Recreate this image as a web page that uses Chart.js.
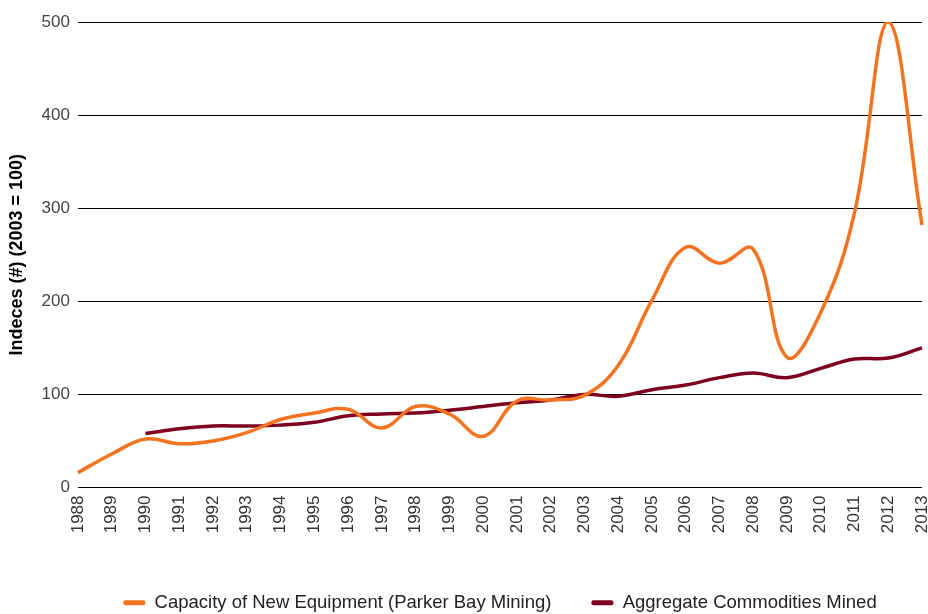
<!DOCTYPE html>
<html>
<head>
<meta charset="utf-8">
<script src="https://cdn.jsdelivr.net/npm/chart.js@4.4.0/dist/chart.umd.min.js"></script>
<style>
  html, body { margin: 0; padding: 0; background: #fff; }
  #wrap { width: 928px; height: 614px; }
</style>
</head>
<body>
<div id="wrap"><canvas id="indexChart" width="928" height="614"></canvas></div>
<script>
// years on the x axis
const years = ['1988', '1989', '1990', '1991', '1992', '1993', '1994', '1995', '1996', '1997', '1998', '1999', '2000',
  '2001', '2002', '2003', '2004', '2005', '2006', '2007', '2008', '2009', '2010', '2011', '2012', '2013'];

// Capacity of New Equipment (Parker Bay Mining)
const capacityValues = [16, 36, 52, 47, 50, 59, 73, 80, 84, 64, 87, 79, 55,
  93, 94, 99, 131, 201, 258, 241, 256, 140, 188, 295, 500, 282];

// Aggregate Commodities Mined (series starts in 1990)
const commoditiesValues = [null, null, 58, 63, 66, 66, 67, 70, 77, 79, 80, 83, 87,
  91, 94, 100, 98, 105, 110, 118, 123, 118, 128, 138, 139, 150];

const yTicks = [0, 100, 200, 300, 400, 500];

const orange = '#f47321';
const darkRed = '#7d0020';

// center the legend under the plot area instead of the whole canvas
const legendUnderPlot = {
  id: 'legendUnderPlot',
  afterLayout(chart) {
    const lg = chart.legend;
    const shift = (chart.chartArea.left + chart.chartArea.right) / 2 - (lg.left + lg.right) / 2;
    lg.left += shift;
    lg.right += shift;
  }
};

const ctx = document.getElementById('indexChart').getContext('2d');
new Chart(ctx, {
  type: 'line',
  data: {
    labels: years,
    datasets: [
      {
        label: 'Capacity of New Equipment (Parker Bay Mining)',
        data: capacityValues,
        borderColor: orange,
        backgroundColor: orange,
        borderWidth: 3.5,
        pointRadius: 0,
        tension: 0.4,
        fill: false
      },
      {
        label: 'Aggregate Commodities Mined',
        data: commoditiesValues,
        borderColor: darkRed,
        backgroundColor: darkRed,
        borderWidth: 3.5,
        pointRadius: 0,
        tension: 0.4,
        fill: false
      }
    ]
  },
  plugins: [legendUnderPlot],
  options: {
    responsive: false,
    animation: false,
    layout: { padding: { top: 22, right: 6, left: 6, bottom: -8 } },
    scales: {
      x: {
        offset: false,
        grid: { display: false, drawTicks: false },
        border: { display: false },
        ticks: {
          minRotation: 90,
          maxRotation: 90,
          padding: 8,
          color: '#333',
          font: { family: 'Liberation Sans', size: 17 }
        },
        afterFit: (scale) => {
          scale.height = 66;
          scale.paddingLeft = 0;
          scale.paddingRight = 0;
        }
      },
      y: {
        min: 0,
        max: 500,
        afterBuildTicks: (scale) => { scale.ticks = yTicks.map(v => ({ value: v })); },
        grid: { color: '#000', lineWidth: 1, drawTicks: false },
        border: { display: false },
        ticks: {
          padding: 8,
          color: '#444',
          font: { family: 'Liberation Sans', size: 17 }
        },
        title: {
          display: true,
          text: 'Indeces (#) (2003 = 100)',
          color: '#000',
          padding: { top: 0, bottom: 6 },
          font: { family: 'Liberation Sans', size: 18, weight: 'bold' }
        }
      }
    },
    plugins: {
      legend: {
        position: 'bottom',
        labels: {
          boxWidth: 22,
          boxHeight: 5,
          padding: 40,
          color: '#222',
          useBorderRadius: true,
          borderRadius: 2,
          font: { family: 'Liberation Sans', size: 18.5 },
          generateLabels: (chart) => Chart.defaults.plugins.legend.labels.generateLabels(chart)
            .map(item => ({ ...item, lineWidth: 0 }))
        }
      },
      tooltip: { enabled: false }
    }
  }
});
</script>
</body>
</html>
